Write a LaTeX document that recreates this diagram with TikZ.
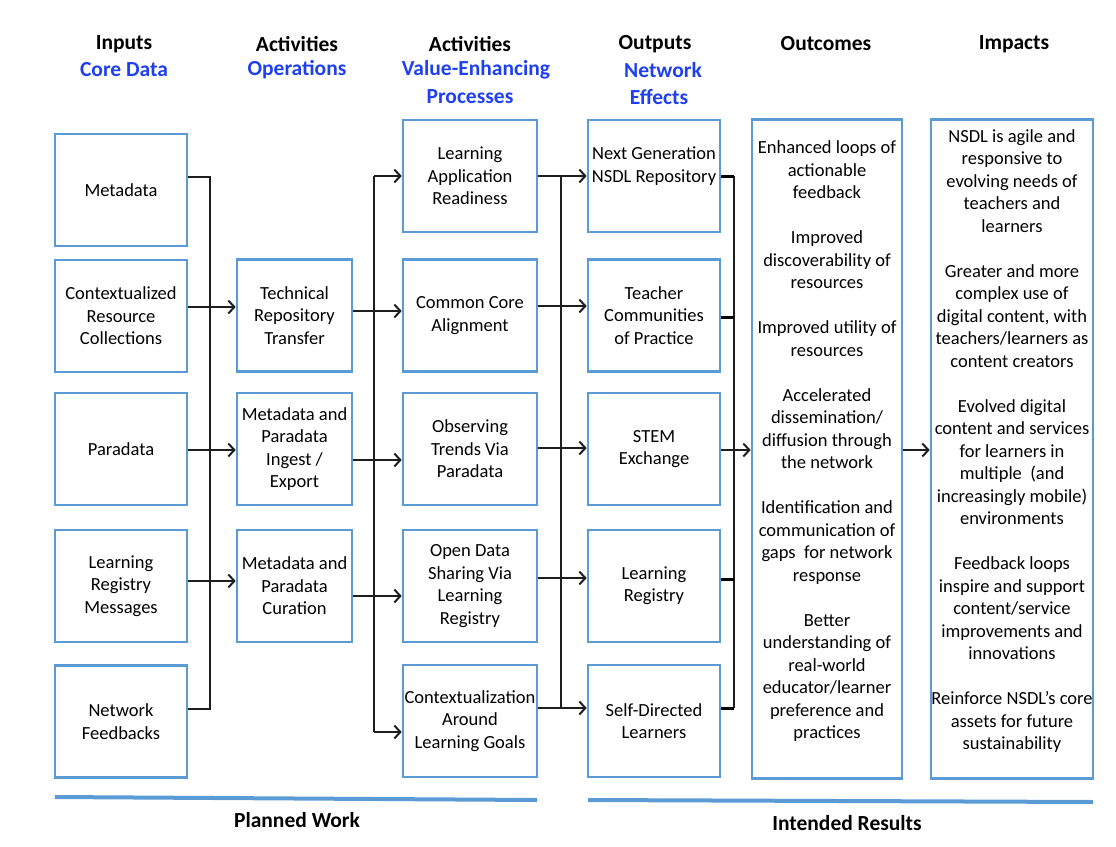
\documentclass[tikz,border=0pt]{standalone}
\usepackage{fontspec}
\setmainfont{Carlito}
\usetikzlibrary{arrows.meta}
\definecolor{boxblue}{RGB}{91,155,213}
\definecolor{headblue}{RGB}{30,64,240}
\definecolor{linegray}{RGB}{30,30,30}
\tikzset{
  box/.style={draw=boxblue, line width=2.6pt, align=center, inner sep=0pt,
    font=\fontsize{18.5}{22.4}\selectfont},
  tall/.style={box, font=\fontsize{18.5}{22.5}\selectfont, minimum height=659, anchor=north},
  c1/.style={box, minimum width=132, minimum height=112},
  c2/.style={box, minimum width=115, minimum height=112},
  c3/.style={box, minimum width=134, minimum height=112},
  c4/.style={box, minimum width=132, minimum height=112},
  head/.style={font=\fontsize{21.5}{24}\selectfont\bfseries, inner sep=0pt},
  headb/.style={head, text=headblue},
  conn/.style={draw=linegray, line width=1.2pt},
  arr/.style={conn, -{Straight Barb[length=6pt,width=13pt,line width=2pt]}},
  stub/.style={draw=black, line width=3pt},
  bottomline/.style={draw=boxblue, line width=4pt},
  foot/.style={font=\fontsize{21.5}{24}\selectfont\bfseries, inner sep=0pt}
}
\begin{document}
\begin{tikzpicture}[x=1pt,y=-1pt]
\useasboundingbox (0,0) rectangle (1116,846);
% headers
\node[head] (h1) at (124,44) {Inputs};
\node[headb] (h1b) at (124,70) {Core Data};
\node[head] (h2) at (297,44) {Activities};
\node[headb] (h2b) at (297,70) {Operations};
\node[head] (h3) at (470,44) {Activities};
\node[headb] (h3b) at (476,70) {Value-Enhancing};
\node[headb] (h3c) at (470,97) {Processes};
\node[head] (h4) at (655,44) {Outputs};
\node[headb] (h4b) at (663,70) {Network};
\node[headb] (h4c) at (659,97) {Effects};
\node[head] (h5) at (826,44) {Outcomes};
\node[head] (h6) at (1014,44) {Impacts};
% column 1
\node[c1] (md) at (121,190) {Metadata};
\node[c1] (crc) at (121,316) {Contextualized\\Resource\\Collections};
\node[c1] (pd) at (121,449) {Paradata};
\node[c1] (lrm) at (121,586) {Learning\\Registry\\Messages};
\node[c1] (nf) at (121,721.5) {Network\\Feedbacks};
% column 2
\node[c2] (trt) at (294.5,315.5) {Technical\\Repository\\Transfer};
\node[c2] (mpi) at (294.5,449) {Metadata and\\Paradata\\Ingest /\\Export};
\node[c2] (mpc) at (294.5,586) {Metadata and\\Paradata\\Curation};
% column 3
\node[c3] (lar) at (470,176) {Learning\\Application\\Readiness};
\node[c3] (cca) at (470,315.5) {Common Core\\Alignment};
\node[c3] (otp) at (470,449) {Observing\\Trends Via\\Paradata};
\node[c3] (ods) at (470,586) {Open Data\\Sharing Via\\Learning\\Registry};
\node[c3] (alg) at (470,721) {Contextualization\\Around\\Learning Goals};
% column 4
\node[c4] (ngr) at (654,176) {Next Generation\\NSDL Repository\\\mbox{}};
\node[c4] (tcp) at (654,315.5) {Teacher\\Communities\\of Practice};
\node[c4] (stem) at (654,449) {STEM\\Exchange};
\node[c4] (lr) at (654,586) {Learning\\Registry};
\node[c4] (sdl) at (654,721) {Self-Directed\\Learners};
% outcomes & impacts
\node[tall, minimum width=150] (out) at (827,118) {%
Enhanced loops of\\actionable\\feedback\\[22.5pt]
Improved\\discoverability of\\resources\\[22.5pt]
Improved utility of\\resources\\[22.5pt]
Accelerated\\dissemination/\\diffusion through\\the network\\[22.5pt]
Identification and\\communication of\\gaps\ \ for network\\response\\[22.5pt]
Better\\understanding of\\real-world\\educator/learner\\preference and\\practices\\[-4.5pt]\mbox{}};
\node[tall, minimum width=162] (imp) at (1012,118) {%
NSDL is agile and\\responsive to\\evolving needs of\\teachers and\\learners\\[22.5pt]
Greater and more\\complex use of\\digital content, with\\teachers/learners as\\content creators\\[22.5pt]
Evolved digital\\content and services\\for learners in\\multiple\ \ (and\\increasingly mobile)\\environments\\[22.5pt]
Feedback loops\\inspire and support\\content/service\\improvements and\\innovations\\[22.5pt]
Reinforce NSDL's core\\assets for future\\sustainability\\[-4.5pt]\mbox{}};
% bus 1
\coordinate (b1t) at (210,177);
\coordinate (b1b) at (210,709);
\draw[conn] (md.east |- b1t) -- (b1t) -- (b1b) -- (nf.east |- b1b);
\draw[arr] (crc.east |- 0,307) -- (trt.west |- 0,307);
\draw[arr] (pd.east |- 0,450) -- (mpi.west |- 0,450);
\draw[arr] (lrm.east |- 0,581) -- (mpc.west |- 0,581);
% bus 2
\coordinate (b2t) at (374,176);
\coordinate (b2b) at (374,732);
\draw[conn] (b2t) -- (b2b);
\draw[arr] (b2t) -- (lar.west |- b2t);
\draw[arr] (b2b) -- (alg.west |- b2b);
\draw[arr] (trt.east |- 0,311) -- (cca.west |- 0,311);
\draw[arr] (mpi.east |- 0,460) -- (otp.west |- 0,460);
\draw[arr] (mpc.east |- 0,596) -- (ods.west |- 0,596);
% bus 3
\coordinate (b3t) at (561,176);
\coordinate (b3b) at (561,708);
\draw[conn] (b3t) -- (b3b);
\draw[arr] (lar.east |- 0,176) -- (ngr.west |- 0,176);
\draw[arr] (cca.east |- 0,306) -- (tcp.west |- 0,306);
\draw[arr] (otp.east |- 0,448) -- (stem.west |- 0,448);
\draw[arr] (ods.east |- 0,578) -- (lr.west |- 0,578);
\draw[arr] (alg.east |- 0,708) -- (sdl.west |- 0,708);
% bus 4
\coordinate (b4t) at (734,176);
\coordinate (b4b) at (734,708);
\draw[conn] (b4t) -- (b4b);
\draw[stub] (ngr.east |- b4t) -- (b4t);
\draw[stub] (tcp.east |- 0,317) -- (734,317);
\draw[stub] (lr.east |- 0,579) -- (734,579);
\draw[stub] (sdl.east |- b4b) -- (b4b);
\draw[arr] (stem.east |- 0,450) -- (out.west |- 0,450);
\draw[arr] (out.east |- 0,450) -- (imp.west |- 0,450);
% bottom
\draw[bottomline] (55,797) -- (537,800);
\draw[bottomline] (588,800) -- (1093,802);
\node[foot] (pw) at (297,820) {Planned Work};
\node[foot] (ir) at (847,823) {Intended Results};
\end{tikzpicture}
\end{document}
